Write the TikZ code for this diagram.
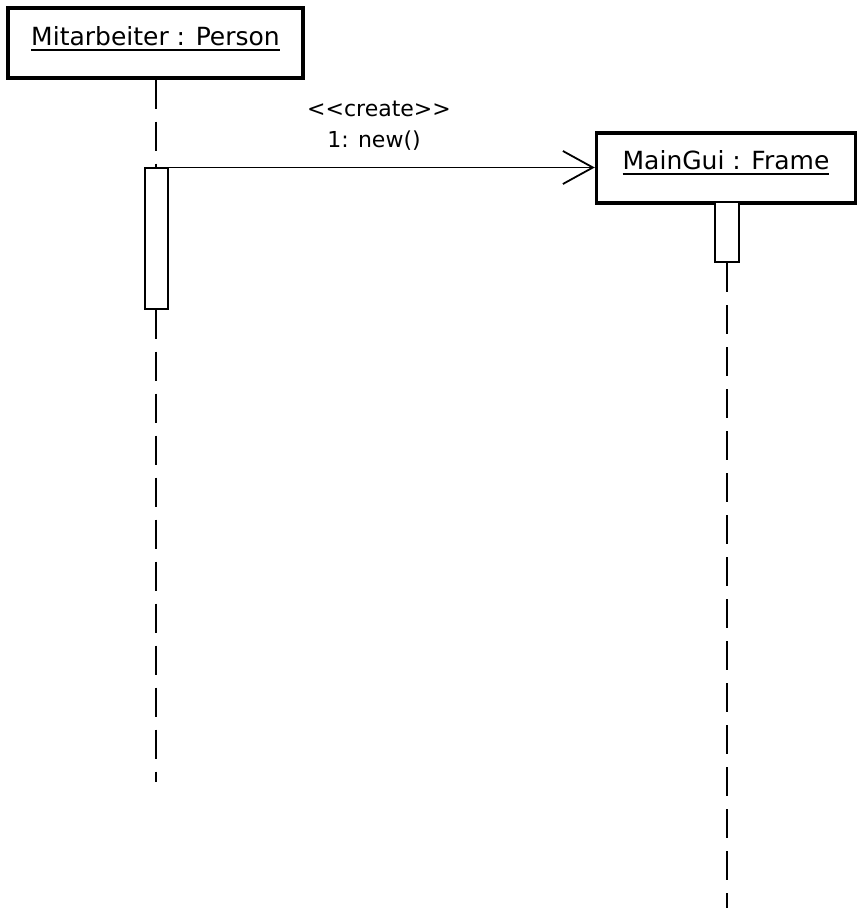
\documentclass[tikz,border=0pt]{standalone}
\usepackage{fontspec}
\setmainfont{DejaVu Sans}
\usetikzlibrary{arrows.meta}
\newcommand\objul[1]{\begingroup\setbox0=\hbox{#1}\leavevmode\rlap{\rule[-6pt]{\wd0}{2pt}}\box0\endgroup}
\begin{document}
\begin{tikzpicture}[x=1pt,y=-1pt,
  objbox/.style={draw=black, line width=3.5pt, fill=white, inner sep=0pt,
    font=\fontsize{25pt}{30pt}\selectfont},
  actbox/.style={draw=black, line width=2pt, fill=white, inner sep=0pt},
  lifeline/.style={line width=2pt, dash pattern=on 29pt off 13pt},
  msg/.style={line width=1.8pt, -{Straight Barb[length=30pt,width=33pt,line width=1.8pt]}},
  msglabel/.style={font=\fontsize{22pt}{26pt}\selectfont, inner sep=0pt, anchor=base}]
\useasboundingbox[fill=white] (0,0) rectangle (867,912);
% object boxes
\node[objbox, minimum width=295pt, text height=37.5pt, text depth=32.5pt] (person) at (155.5,43) {\objul{Mitarbeiter : Person}};
\node[objbox, minimum width=259pt, text height=36.5pt, text depth=33.5pt] (gui) at (726,168) {\objul{MainGui : Frame}};
% activations
\node[actbox, minimum width=23pt, minimum height=140pt] (act1) at (156,238.5) {};
\node[actbox, minimum width=24pt, minimum height=60pt] (act2) at (727,232) {};
% lifelines
\coordinate (end1) at (156,782);
\coordinate (end2) at (727,908);
\draw[lifeline] (person.south -| act1.north) -- (act1.north);
\draw[lifeline] (act1.south) -- (end1);
\draw[lifeline] (act2.south) -- (end2);
% message
\draw[msg] (act1.north east) -- (act1.north east -| gui.west);
\node[msglabel] (stereo) at (379,117) {<{}<create>{}>};
\node[msglabel] (newlbl) at (374,148) {1: new()};
\end{tikzpicture}
\end{document}
